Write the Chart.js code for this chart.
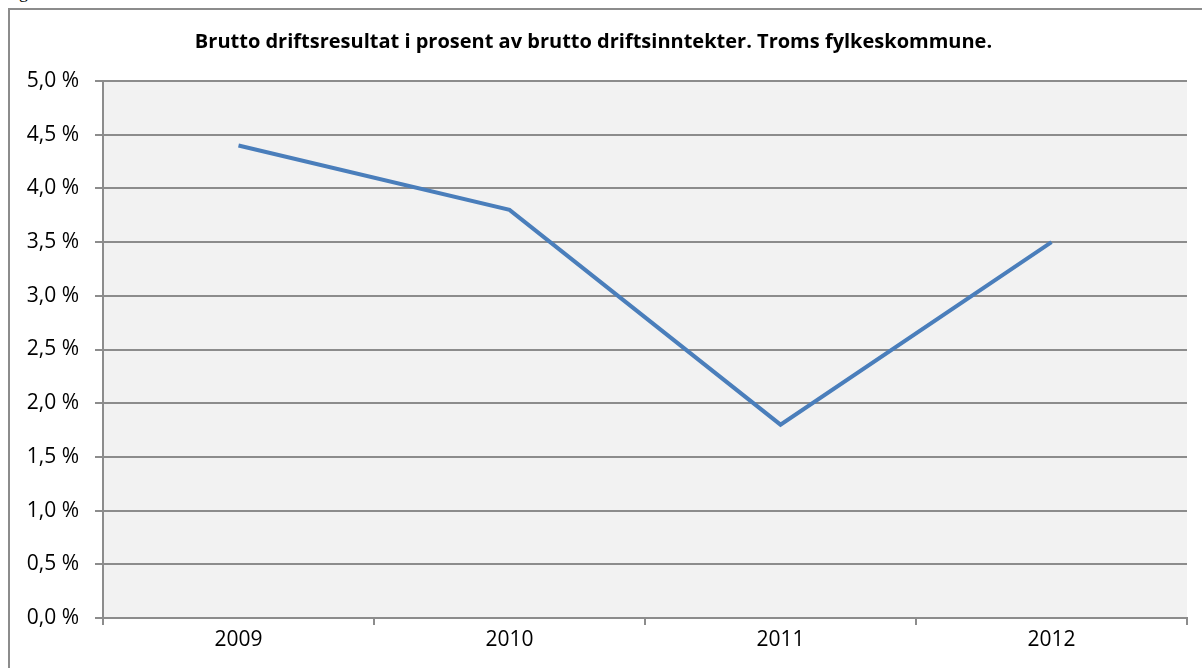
<!DOCTYPE html>
<html>
<head>
<meta charset="utf-8">
<script src="https://cdn.jsdelivr.net/npm/chart.js@4"></script>
<style>
  html, body { margin: 0; padding: 0; background: #fff; overflow: hidden; }
  #wrap { position: relative; width: 1202px; height: 668px; }
  #frame { position: absolute; left: 8px; top: 8px; width: 1300px; height: 800px; border: 2px solid #8c8c8c; box-sizing: border-box; }
  #fig { position: absolute; left: 4px; top: -18px; font: 18px "Liberation Serif", serif; color: #000; }
  canvas { position: absolute; left: 0; top: 0; }
</style>
</head>
<body>
<div id="wrap">
  <div id="fig">Figur 33</div>
  <div id="frame"></div>
  <canvas id="resultChart" width="1202" height="668"></canvas>
</div>
<script>
// Data
const years = ['2009', '2010', '2011', '2012'];
const resultPct = [4.4, 3.8, 1.8, 3.5];
const yTicks = [0, 0.5, 1, 1.5, 2, 2.5, 3, 3.5, 4, 4.5, 5];

const gridColor = '#8c8c8c';
const tickFont = { family: '"Open Sans", sans-serif', size: 21 };

// plot area background
const plotBg = {
    id: 'plotBg',
    beforeDraw(chart) {
        const { ctx, chartArea: a } = chart;
        ctx.save();
        ctx.fillStyle = '#f2f2f2';
        ctx.fillRect(a.left, a.top, a.right - a.left, a.bottom - a.top);
        ctx.restore();
    }
};

const resultChart = new Chart(document.getElementById('resultChart'), {
    type: 'line',
    data: {
        labels: years,
        datasets: [{
            label: 'Brutto driftsresultat',
            data: resultPct,
            borderColor: '#4a7ebb',
            borderWidth: 4,
            pointRadius: 0,
            tension: 0
        }]
    },
    options: {
        responsive: false,
        animation: false,
        layout: { padding: { left: 0, right: 15, top: 0, bottom: 0 } },
        plugins: {
            legend: { display: false },
            tooltip: { enabled: false },
            title: {
                display: true,
                text: 'Brutto driftsresultat i prosent av brutto driftsinntekter. Troms fylkeskommune.',
                color: '#000',
                font: { family: '"Open Sans", sans-serif', size: 20, weight: 'bold', lineHeight: 1.2 },
                padding: { top: 30, bottom: 27 }
            }
        },
        scales: {
            x: {
                offset: true,
                afterFit: s => { s.height = 50; },
                grid: {
                    offset: true,
                    drawOnChartArea: false,
                    tickLength: 7,
                    color: gridColor,
                    lineWidth: 2
                },
                border: { color: gridColor, width: 2 },
                ticks: { color: '#000', font: tickFont, padding: 2 }
            },
            y: {
                min: 0,
                max: 5,
                afterFit: s => { s.width = 103; },
                afterBuildTicks: s => { s.ticks = yTicks.map(v => ({ value: v })); },
                grid: { color: gridColor, lineWidth: 2, tickLength: 8 },
                border: { color: gridColor, width: 2 },
                ticks: {
                    color: '#000',
                    font: tickFont,
                    padding: 16,
                    callback: v => v.toFixed(1).replace('.', ',') + ' %'
                }
            }
        }
    },
    plugins: [plotBg]
});
</script>
</body>
</html>
